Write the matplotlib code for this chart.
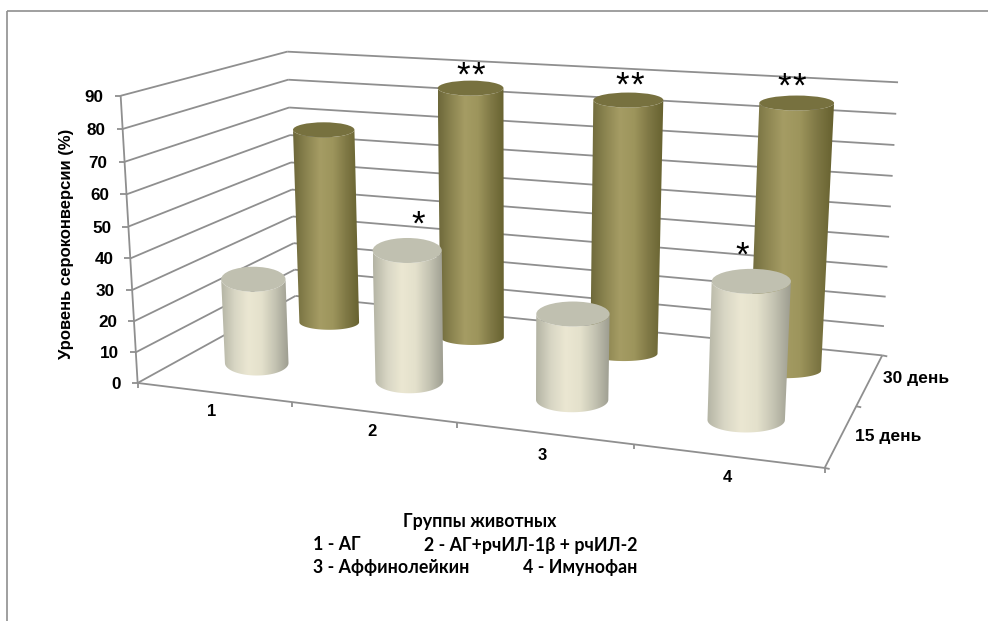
import numpy as np
import matplotlib
matplotlib.use("Agg")
import matplotlib.pyplot as plt
from matplotlib.colors import LinearSegmentedColormap
from matplotlib.patches import Ellipse, PathPatch
from matplotlib.path import Path

groups = ["1", "2", "3", "4"]
series = ["15 день", "30 день"]
values_15 = [28, 42, 27, 42]
values_30 = [68, 85, 84, 86]
y_ticks = [0, 10, 20, 30, 40, 50, 60, 70, 80, 90]

ylabel = "Уровень сероконверсии (%)"
xlabel = "Группы животных"
legend_rows = [("1 - АГ", "2 - АГ+рчИЛ-1β + рчИЛ-2"),
               ("3 - Аффинолейкин", "4 - Имунофан")]

GRID = "#8f8f8f"
ARIAL = "Liberation Sans"
BOTTOM_FONT = ["Lato", "Noto Sans"]

# box corners (group, series, value) -> pixels, used to fit the projection
box = [((0, 0, 0), (137, 380)), ((0, 0, 90), (121, 97)),
       ((0, 2, 0), (296, 299)), ((0, 2, 90), (287, 50)),
       ((4, 2, 0), (882, 353)), ((4, 2, 90), (898, 83)),
       ((4, 0, 0), (825, 470))]

rows, rhs = [], []
for (u, v, z), (px, py) in box:
    rows.append([u, v, z, 1, 0, 0, 0, 0, -px*u, -px*v, -px*z])
    rhs.append(px)
    rows.append([0, 0, 0, 0, u, v, z, 1, -py*u, -py*v, -py*z])
    rhs.append(py)
coef = np.linalg.lstsq(np.array(rows, float), np.array(rhs, float), rcond=None)[0]
H = np.append(coef, 1).reshape(3, 4)


def proj(u, v, z):
    x, y, w = H @ np.array([u, v, z, 1.0])
    return x/w, y/w


fig = plt.figure(figsize=(9.88, 6.21), dpi=100)
ax = fig.add_axes([0, 0, 1, 1])
ax.set_xlim(0, 988)
ax.set_ylim(621, 0)
ax.axis("off")


def seg(p, q, lw=1.3):
    ax.plot([p[0], q[0]], [p[1], q[1]], color=GRID, lw=lw, solid_capstyle="butt", zorder=1)


# outer frame
seg((7, 11), (988, 11), 1.2)
seg((7, 11), (7, 621), 1.2)

# walls and floor
for val in y_ticks:
    seg(proj(0, 0, val), proj(0, 2, val))
    seg(proj(0, 2, val), proj(4, 2, val))
    p = proj(0, 0, val)
    seg((p[0]-6, p[1]), p)
    ax.text(p[0]-17, p[1], str(val), ha="right", va="center_baseline", fontsize=12.3,
            family=ARIAL, weight="bold", color="black")
seg(proj(0, 0, 0), proj(0, 0, 90))
seg(proj(0, 0, 0), proj(4, 0, 0))
seg(proj(4, 0, 0), proj(4, 2, 0))
for i in range(5):
    p = proj(i, 0, 0)
    seg(p, (p[0], p[1]+5))
for j in range(3):
    p = proj(4, j, 0)
    seg(p, (p[0]+5, p[1]+1))

cmap_light = LinearSegmentedColormap.from_list(
    "light", ["#b4b4a4", "#d8d6c4", "#ebe7d2", "#e4e1cc", "#c4c3b2", "#9d9d90"])
cmap_olive = LinearSegmentedColormap.from_list(
    "olive", ["#6d683a", "#8b8450", "#a59c64", "#9d955c", "#7f7845", "#66612f"])


def cylinder(u, v, val, cmap, cap, half_h, half_u=0.215, z=3):
    x0, y0 = proj(u, v, 0)
    x1, y1 = proj(u, v, val)
    a0 = (proj(u+half_u, v, 0)[0] - proj(u-half_u, v, 0)[0]) / 2
    a1 = (proj(u+half_u, v, val)[0] - proj(u-half_u, v, val)[0]) / 2
    t = np.linspace(0, np.pi, 40)
    # lower half of the top ellipse, then back along the lower half of the base
    top = np.column_stack([x1 + a1*np.cos(t), y1 + half_h*np.sin(t)])
    bottom = np.column_stack([x0 - a0*np.cos(t), y0 + half_h*np.sin(t)])
    body = PathPatch(Path(np.vstack([top, bottom, top[:1]])), fc="none", ec="none", zorder=z)
    ax.add_patch(body)
    left = min(x0-a0, x1-a1)
    right = max(x0+a0, x1+a1)
    im = ax.imshow(np.linspace(0, 1, 128).reshape(1, -1), cmap=cmap, aspect="auto",
                   extent=(left, right, y0+half_h+1, y1-half_h-1), zorder=z)
    im.set_clip_path(body)
    ax.add_patch(Ellipse((x1, y1), 2*a1, 2*half_h, fc=cap, ec="none", zorder=z+0.1))


# back row first so the front row overlaps it
for i, val in enumerate(values_30):
    cylinder(i+0.5, 1.5, val, cmap_olive, "#77713f", 7.5, z=3+i*0.2)
for i, val in enumerate(values_15):
    cylinder(i+0.47, 0.57, val, cmap_light, "#c0c0b0", 12.5, z=5+i*0.2)
ax.set_xlim(0, 988)
ax.set_ylim(621, 0)

# significance marks
for x, y in [(463, 70), (478, 70), (622, 80), (637, 80), (784, 81), (799, 81),
             (418, 219), (742, 250)]:
    ax.text(x, y+6, "*", ha="center", va="center", fontsize=25, family=ARIAL, color="black", zorder=9)

# category and series labels
for name, x, y in zip(groups, [212, 372, 542, 727], [412, 432, 455, 478]):
    ax.text(x, y, name, ha="center", va="center", fontsize=12, family=ARIAL, weight="bold")
for name, x, y in zip(series, [855, 883], [437, 378]):
    ax.text(x, y, name, ha="left", va="center", fontsize=12.5, family=ARIAL, weight="bold")

ax.text(66, 244, ylabel, rotation=90, ha="center", va="center", fontsize=12,
        family=ARIAL, weight="bold")

ax.text(480, 521, xlabel, ha="center", va="center", fontsize=12.8, family=BOTTOM_FONT, weight="bold")
for (left, right), y in zip(legend_rows, [545, 568]):
    ax.text(313, y, left, ha="left", va="center", fontsize=12.8, family=BOTTOM_FONT, weight="bold")
    ax.text(637, y, right, ha="right", va="center", fontsize=12.8, family=BOTTOM_FONT, weight="bold")

fig.savefig("out.png", dpi=100)
